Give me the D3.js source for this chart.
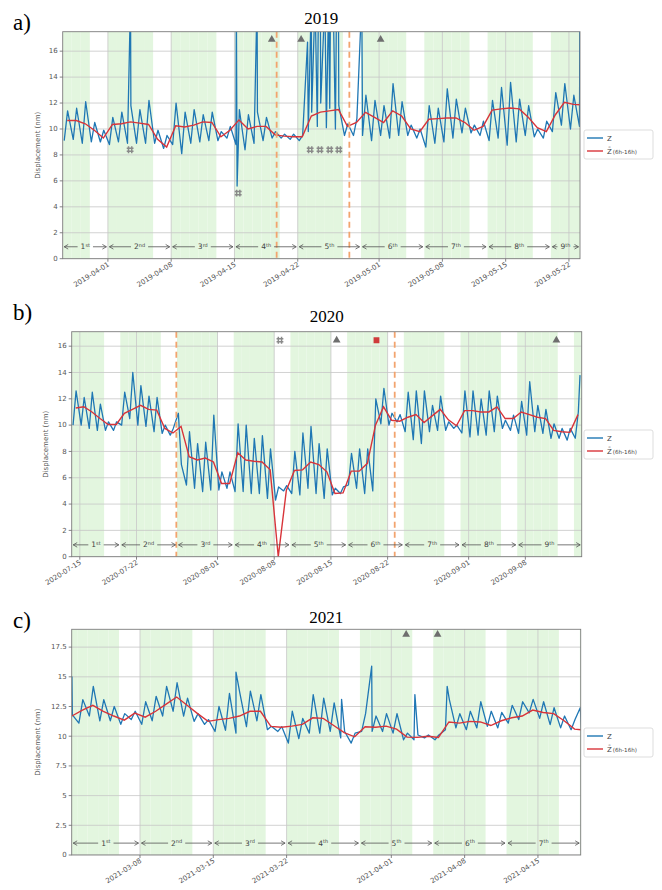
<!DOCTYPE html>
<html>
<head>
<meta charset="utf-8">
<script src="https://cdn.jsdelivr.net/npm/d3@7"></script>
<style>
  body { margin: 0; background: #fff; }
  svg { display: block; }
</style>
</head>
<body>
<svg id="fig" width="662" height="890"></svg>
<script>
// ---- panel a (2019) ----
// Z read at ~04h (night) and ~13h (day) for each day from 2019-03-27
const aStart = "2019-03-27";
const aZ04h = [9.1, 9.2, 8.9, 9.0, 9.0, 8.8, 9.0, 8.9, 8.9, 8.9, 8.9, 8.5, 8.8, 8.1, 8.9, 9.0, 9.1, 9.1, 9.3, 8.8,
  8.4, 8.9, 9.1, 9.3, 9.3, 9.2, 9.1, 9.8, 10.2, 10.1, 10.0, 9.5, 9.5, 9.5, 9.1, 9.5, 9.3, 9.5, 9.5, 9.3,
  8.6, 8.9, 9.0, 9.3, 9.7, 9.7, 9.5, 9.1, 9.3, 8.75, 9.0, 9.5, 9.4, 9.3, 9.8, 10.3, 10.0, 10.2];
const aZ13h = [11.4, 11.6, 12.1, 10.5, 9.9, 10.9, 11.3, 11.8, 11.5, 12.2, 9.9, 9.5, 12.0, 11.3, 11.5, 11.1, 11.3, 9.8, 10.2, 11.5,
  11.1, 11.3, 10.9, 9.8, 9.6, 9.6, 9.5, 11.3, 12.0, 11.6, 11.8, 10.4, 10.8, 12.6, 12.2, 11.8, 13.5, 12.1, 10.3, 10.0,
  11.8, 11.6, 13.1, 12.3, 11.6, 10.3, 10.6, 12.2, 13.2, 13.6, 12.3, 11.8, 10.0, 10.6, 12.8, 13.5, 12.6, 12.0];
// daily mean 6h-16h, plotted at noon
const aMean = [10.65, 10.65, 10.4, 9.9, 9.3, 10.35, 10.4, 10.55, 10.45, 10.35, 9.2, 8.6, 10.25, 10.15, 10.3, 10.55, 10.5, 9.4, 9.9, 10.7,
  10.0, 10.2, 10.2, 9.55, 9.45, 9.4, 9.4, 11.0, 11.3, 11.4, 11.5, 10.2, 10.5, 11.28, 10.9, 10.5, 11.4, 11.0, 10.0, 9.8,
  10.75, 10.8, 10.85, 10.85, 10.5, 9.9, 10.2, 11.45, 11.55, 11.62, 11.55, 10.9, 10.1, 9.8, 11.1, 12.05, 11.9, 11.85];
const aSpikes = [["2019-04-03T12:00", 20], ["2019-04-15T05:00", 20], ["2019-04-15T07:00", 5.6], ["2019-04-17T12:00", 20],
  ["2019-04-23T02:00", 16.7], ["2019-04-23T12:00", 20], ["2019-04-23T22:00", 20], ["2019-04-24T07:00", 20],
  ["2019-04-24T12:00", 20], ["2019-04-25T00:00", 20], ["2019-04-25T10:00", 20], ["2019-04-25T15:00", 20],
  ["2019-04-25T22:00", 20], ["2019-04-26T07:00", 20], ["2019-04-26T12:00", 20], ["2019-04-29T02:00", 20],
  ["2019-05-23T05:00", 20]];
const aTicks = ["2019-04-01", "2019-04-08", "2019-04-15", "2019-04-22", "2019-05-01", "2019-05-08", "2019-05-15", "2019-05-22"];
const aWeeks = ["2019-03-27", "2019-04-01", "2019-04-08", "2019-04-15", "2019-04-22", "2019-04-29", "2019-05-06", "2019-05-13", "2019-05-20", "2019-05-23T05:20"];
const aDashed = ["2019-04-19T16:00", "2019-04-27T17:00"];
const aTriangles = [["2019-04-19T03:00", 16.9], ["2019-04-22T09:00", 16.9], ["2019-05-01T04:00", 16.9]];
const aHashes = [["2019-04-03T11:00", 8.4], ["2019-04-15T10:00", 5.05], ["2019-04-23T09:00", 8.4],
  ["2019-04-24T11:00", 8.4], ["2019-04-25T13:00", 8.4], ["2019-04-26T13:00", 8.4]];

// ---- panel b (2020) ----
const bStart = "2020-07-14";
const bZ04h = [10.0, 10.0, 9.75, 9.6, 9.6, 9.6, 10.0, 10.5, 10.0, 9.9, 9.5, 9.37, 9.24, 10.9, 5.45, 5.2, 4.95, 5.07, 5.07, 5.2,
  4.95, 4.95, 4.8, 4.8, 4.43, 4.3, 5.0, 4.8, 4.7, 5.2, 4.8, 4.43, 4.7, 4.8, 5.45, 5.2, 4.8, 5.0, 10.1, 10.0,
  10.25, 9.5, 8.9, 8.6, 9.5, 9.6, 9.6, 9.75, 9.4, 9.1, 9.24, 9.24, 9.5, 9.75, 9.6, 9.37, 9.24, 9.5, 9.37, 9.0,
  9.0, 8.86, 9.0];
const bZ13h = [12.6, 12.1, 12.5, 11.6, 10.25, 10.25, 12.5, 14.0, 13.0, 12.2, 12.1, 10.0, 9.75, 7.0, 9.5, 8.6, 8.7, 10.76, 6.45, 6.45,
  10.1, 10.0, 9.0, 9.2, 8.2, 5.3, 5.4, 8.0, 9.4, 9.9, 8.6, 8.2, 5.2, 5.3, 7.85, 8.2, 8.2, 12.0, 12.8, 10.9,
  10.8, 12.5, 12.6, 12.6, 11.5, 12.2, 10.25, 10.0, 12.6, 12.6, 12.0, 12.6, 12.2, 10.37, 10.76, 11.8, 13.3, 11.5, 11.2, 10.1,
  9.75, 9.75, 11.0];
const bMean = [11.3, 11.4, 11.0, 10.5, 10.05, 10.05, 10.9, 11.2, 11.5, 11.2, 11.14, 9.75, 9.4, 9.9, 7.6, 7.35, 7.5, 7.2, 5.56, 5.56,
  7.9, 7.35, 7.25, 7.2, 6.6, 0.0, 5.05, 6.55, 6.6, 7.2, 7.0, 6.45, 4.8, 4.85, 6.5, 6.5, 7.1, 10.0, 11.39, 10.37,
  10.3, 10.6, 10.8, 10.2, 10.7, 11.2, 10.4, 9.95, 11.1, 11.1, 11.0, 11.0, 11.39, 10.5, 10.5, 11.0, 10.8, 10.6, 10.5, 9.6,
  9.5, 9.45, 10.8];
const bSpikes = [["2020-09-14T18:00", 13.8]];
const bTicks = ["2020-07-15", "2020-07-22", "2020-08-01", "2020-08-08", "2020-08-15", "2020-08-22", "2020-09-01", "2020-09-08"];
const bWeeks = ["2020-07-14", "2020-07-20", "2020-07-27", "2020-08-03", "2020-08-10", "2020-08-17", "2020-08-24", "2020-08-31", "2020-09-07", "2020-09-14T23:00"];
const bDashed = ["2020-07-26T22:00", "2020-08-22T21:00"];
const bTriangles = [["2020-08-15T17:00", 16.45], ["2020-09-11T20:00", 16.45]];
const bHashes = [["2020-08-08T17:00", 16.45]];
const bSquares = [["2020-08-20T15:00", 16.45]];

// ---- panel c (2021) ----
const cStart = "2021-03-01";
const cZ04h = [10.5, 11.1, 11.7, 11.3, 11.3, 11.0, 11.4, 11.0, 11.3, 11.7, 12.1, 11.7, 11.25, 11.0, 10.4, 10.5, 10.26, 10.8, 11.3, 10.55,
  10.4, 9.42, 9.8, 10.26, 10.26, 10.4, 9.86, 9.42, 10.4, 10.4, 10.4, 10.26, 9.7, 9.7, 9.86, 9.7, 10.55, 10.7, 10.55, 10.7,
  10.83, 10.7, 11.1, 11.4, 11.96, 11.5, 10.97, 10.7, 10.55, 10.55];
const cZ13h = [11.8, 13.08, 14.2, 13.08, 12.5, 11.9, 12.1, 12.9, 13.36, 14.2, 14.5, 13.2, 11.9, 11.4, 12.5, 13.6, 13.6, 13.8, 13.5, 10.83,
  10.8, 12.1, 11.5, 13.5, 13.2, 12.8, 10.4, 10.26, 11.9, 11.7, 11.9, 11.9, 10.26, 10.1, 10.1, 10.1, 13.08, 11.9, 12.1, 12.9,
  12.1, 12.0, 12.6, 12.9, 13.1, 12.9, 12.4, 11.7, 11.4, 12.0];
const cMean = [11.7, 12.2, 12.6, 12.1, 11.7, 11.35, 11.95, 11.6, 12.1, 12.7, 13.3, 12.6, 11.9, 11.25, 11.4, 11.5, 11.7, 12.1, 12.1, 10.83,
  10.75, 10.85, 11.0, 11.55, 11.5, 10.9, 10.3, 9.95, 10.8, 10.75, 10.85, 10.6, 9.92, 9.9, 10.0, 9.9, 11.2, 11.1, 11.25, 11.2,
  10.9, 11.3, 11.55, 11.7, 12.2, 12.0, 11.9, 11.3, 10.6, 10.5];
const cSpikes = [["2021-03-01T12:00", 15.0], ["2021-03-17T04:00", 15.4], ["2021-03-27T06:00", 13.1], ["2021-03-30T03:00", 15.9],
  ["2021-04-03T06:00", 13.5], ["2021-04-06T08:00", 14.2], ["2021-04-19T01:00", 12.4]];
const cTicks = ["2021-03-08", "2021-03-15", "2021-03-22", "2021-04-01", "2021-04-08", "2021-04-15"];
const cWeeks = ["2021-03-01T11:30", "2021-03-08", "2021-03-15", "2021-03-22", "2021-03-29", "2021-04-05", "2021-04-12", "2021-04-19T02:00"];
const cTriangles = [["2021-04-02T10:00", 18.57], ["2021-04-05T10:00", 18.57]];

const weekLabels = ["1st", "2nd", "3rd", "4th", "5th", "6th", "7th", "8th", "9th"];
const yTicksAB = [0, 2, 4, 6, 8, 10, 12, 14, 16];
const yTicksC = [0, 2.5, 5, 7.5, 10, 12.5, 15, 17.5];

const parseHour = d3.timeParse("%Y-%m-%dT%H:%M");
const parseDay = d3.timeParse("%Y-%m-%d");
const T = s => s.length > 10 ? parseHour(s) : parseDay(s);

function zSeries(start, night, day, spikes) {
  const t0 = parseDay(start);
  const pts = [];
  night.forEach((v, i) => {
    const d = d3.timeDay.offset(t0, i);
    pts.push({ t: d3.timeHour.offset(d, 4), v: v });
    pts.push({ t: d3.timeHour.offset(d, 13), v: day[i] });
  });
  spikes.forEach(([s, v]) => pts.push({ t: T(s), v: v }));
  return pts.sort((p, q) => p.t - q.t);
}
function meanSeries(start, mean) {
  const t0 = parseDay(start);
  return mean.map((v, i) => ({ t: d3.timeHour.offset(d3.timeDay.offset(t0, i), 12), v: v }));
}

const panels = [
  { id: "a", tag: "a)", title: "2019", left: 62.7, right: 580, top: 31.7, bottom: 258.7, yMax: 17.5, yTicks: yTicksAB,
    ylabX: 40, tagY: 30, titleY: 24, legendY: 130,
    domain: [aWeeks[0], aWeeks[aWeeks.length - 1]], ticks: aTicks, weeks: aWeeks, arrowV: 0.92,
    z: zSeries(aStart, aZ04h, aZ13h, aSpikes), mean: meanSeries(aStart, aMean),
    dashed: aDashed, tri: aTriangles, hash: aHashes, sq: [] },
  { id: "b", tag: "b)", title: "2020", left: 71.7, right: 581.7, top: 331.7, bottom: 556.7, yMax: 17.1, yTicks: yTicksAB,
    ylabX: 48, tagY: 320, titleY: 322, legendY: 430,
    domain: [bWeeks[0], bWeeks[bWeeks.length - 1]], ticks: bTicks, weeks: bWeeks, arrowV: 0.9,
    z: zSeries(bStart, bZ04h, bZ13h, bSpikes), mean: meanSeries(bStart, bMean),
    dashed: bDashed, tri: bTriangles, hash: bHashes, sq: bSquares },
  { id: "c", tag: "c)", title: "2021", left: 71.7, right: 580.7, top: 629.3, bottom: 855, yMax: 19, yTicks: yTicksC,
    ylabX: 40, tagY: 628, titleY: 623, legendY: 728,
    domain: [cWeeks[0], cWeeks[cWeeks.length - 1]], ticks: cTicks, weeks: cWeeks, arrowV: 1.0,
    z: zSeries(cStart, cZ04h, cZ13h, cSpikes), mean: meanSeries(cStart, cMean),
    dashed: [], tri: cTriangles, hash: [], sq: [] }
];

const svg = d3.select("#fig");
const tickFont = "DejaVu Sans, sans-serif";

function drawPanel(p) {
  const x = d3.scaleTime().domain(p.domain.map(T)).range([p.left, p.right]);
  const y = d3.scaleLinear().domain([0, p.yMax]).range([p.bottom, p.top]);
  const g = svg.append("g");

  g.append("clipPath").attr("id", "clip-" + p.id)
    .append("rect").attr("x", p.left).attr("y", p.top)
    .attr("width", p.right - p.left).attr("height", p.bottom - p.top);
  const plot = g.append("g").attr("clip-path", `url(#clip-${p.id})`);

  // weekday shading
  const days = d3.timeDay.range(d3.timeDay.floor(x.domain()[0]), x.domain()[1])
    .filter(d => d.getDay() >= 1 && d.getDay() <= 5);
  plot.selectAll("rect.wd").data(days).join("rect").attr("class", "wd")
    .attr("x", d => x(d)).attr("y", p.top)
    .attr("width", d => x(d3.timeDay.offset(d, 1)) - x(d)).attr("height", p.bottom - p.top)
    .attr("fill", "#e3f6df");

  // grid
  plot.selectAll("line.gy").data(p.yTicks).join("line").attr("class", "gy")
    .attr("x1", p.left).attr("x2", p.right).attr("y1", d => y(d)).attr("y2", d => y(d))
    .attr("stroke", "#c6c6c6").attr("stroke-width", 0.8);
  plot.selectAll("line.gx").data(p.ticks.map(T)).join("line").attr("class", "gx")
    .attr("x1", d => x(d)).attr("x2", d => x(d)).attr("y1", p.top).attr("y2", p.bottom)
    .attr("stroke", "#c6c6c6").attr("stroke-width", 0.8);

  const line = d3.line().x(d => x(d.t)).y(d => y(d.v));
  plot.append("path").datum(p.z).attr("d", line)
    .attr("fill", "none").attr("stroke", "#1f77b4").attr("stroke-width", 1.3).attr("stroke-linejoin", "round");
  plot.append("path").datum(p.mean).attr("d", line)
    .attr("fill", "none").attr("stroke", "#d8343a").attr("stroke-width", 1.4);

  // dashed separators
  plot.selectAll("line.ds").data(p.dashed.map(T)).join("line").attr("class", "ds")
    .attr("x1", d => x(d)).attr("x2", d => x(d)).attr("y1", p.top).attr("y2", p.bottom)
    .attr("stroke", "#f2a46e").attr("stroke-width", 1.8).attr("stroke-dasharray", "6,4");

  // markers
  plot.selectAll("path.tri").data(p.tri).join("path").attr("class", "tri")
    .attr("transform", d => `translate(${x(T(d[0]))},${y(d[1])})`)
    .attr("d", d3.symbol(d3.symbolTriangle, 26)).attr("fill", "#6e6e6e");
  plot.selectAll("path.sq").data(p.sq).join("path").attr("class", "sq")
    .attr("transform", d => `translate(${x(T(d[0]))},${y(d[1])})`)
    .attr("d", d3.symbol(d3.symbolSquare, 34)).attr("fill", "#cf3b3b");
  plot.selectAll("path.hs").data(p.hash).join("path").attr("class", "hs")
    .attr("transform", d => `translate(${x(T(d[0]))},${y(d[1])})`)
    .attr("d", "M-1.6,-3.4V3.4M1.6,-3.4V3.4M-3.4,-1.6H3.4M-3.4,1.6H3.4")
    .attr("stroke", "#8a8a8a").attr("stroke-width", 1.5).attr("fill", "none");

  // week arrows
  const ay = y(p.arrowV);
  const wk = p.weeks.map(T);
  for (let i = 0; i < wk.length - 1; i++) {
    const x0 = x(wk[i]) + 1.5, x1 = x(wk[i + 1]) - 1.5, xm = (x0 + x1) / 2;
    const m = weekLabels[i].match(/(\d+)(\D+)/);
    const txt = g.append("text").attr("x", xm).attr("y", ay + 2.6).attr("text-anchor", "middle")
      .attr("font-family", tickFont).attr("font-size", 7.5).attr("fill", "#444");
    txt.append("tspan").text(m[1]);
    txt.append("tspan").attr("font-size", 5).attr("dy", -2.8).text(m[2]);
    const gap = txt.node().getComputedTextLength() / 2 + 3;
    g.append("path")
      .attr("d", `M${x0 + 4},${ay - 2.3}L${x0},${ay}L${x0 + 4},${ay + 2.3}M${x0},${ay}H${xm - gap}` +
        `M${xm + gap},${ay}H${x1}M${x1 - 4},${ay - 2.3}L${x1},${ay}L${x1 - 4},${ay + 2.3}`)
      .attr("fill", "none").attr("stroke", "#555").attr("stroke-width", 0.8);
  }

  // frame
  g.append("rect").attr("x", p.left).attr("y", p.top)
    .attr("width", p.right - p.left).attr("height", p.bottom - p.top)
    .attr("fill", "none").attr("stroke", "#7c7c7c").attr("stroke-width", 0.9);

  // y ticks
  p.yTicks.forEach(v => {
    g.append("line").attr("x1", p.left - 3).attr("x2", p.left).attr("y1", y(v)).attr("y2", y(v))
      .attr("stroke", "#666").attr("stroke-width", 0.8);
    g.append("text").attr("x", p.left - 5).attr("y", y(v)).attr("dy", "0.33em").attr("text-anchor", "end")
      .attr("font-family", tickFont).attr("font-size", 7).attr("fill", "#555").text(String(v));
  });
  g.append("text").attr("transform", `translate(${p.ylabX},${(p.top + p.bottom) / 2}) rotate(-90)`)
    .attr("text-anchor", "middle").attr("font-family", tickFont).attr("font-size", 7).attr("fill", "#555")
    .text("Displacement (nm)");

  // x ticks
  const fmt = d3.timeFormat("%Y-%m-%d");
  p.ticks.map(T).forEach(d => {
    g.append("line").attr("x1", x(d)).attr("x2", x(d)).attr("y1", p.bottom).attr("y2", p.bottom + 3)
      .attr("stroke", "#666").attr("stroke-width", 0.8);
    g.append("text").attr("transform", `translate(${x(d) + 2},${p.bottom + 7}) rotate(-32)`)
      .attr("text-anchor", "end").attr("font-family", tickFont).attr("font-size", 7).attr("fill", "#555")
      .text(fmt(d));
  });

  // legend
  const lg = g.append("g").attr("transform", `translate(584,${p.legendY})`);
  lg.append("rect").attr("width", 69).attr("height", 29).attr("rx", 2)
    .attr("fill", "#fff").attr("stroke", "#d4d4d4").attr("stroke-width", 0.8);
  lg.append("line").attr("x1", 3).attr("x2", 19).attr("y1", 8).attr("y2", 8)
    .attr("stroke", "#1f77b4").attr("stroke-width", 1.4);
  lg.append("line").attr("x1", 3).attr("x2", 19).attr("y1", 21).attr("y2", 21)
    .attr("stroke", "#d8343a").attr("stroke-width", 1.4);
  lg.append("text").attr("x", 23).attr("y", 10.5).attr("font-family", tickFont).attr("font-size", 7)
    .attr("fill", "#444").text("Z");
  const l2 = lg.append("text").attr("x", 23).attr("y", 23.5).attr("font-family", tickFont).attr("font-size", 7)
    .attr("fill", "#444");
  l2.append("tspan").text("Z\u0304");
  l2.append("tspan").attr("font-size", 5.6).attr("dx", 1).text("(6h-16h)");

  // panel tag and title
  g.append("text").attr("x", 13).attr("y", p.tagY).attr("font-family", "Liberation Serif, serif")
    .attr("font-size", 23).attr("fill", "#000").text(p.tag);
  g.append("text").attr("x", (p.left + p.right) / 2).attr("y", p.titleY).attr("text-anchor", "middle")
    .attr("font-family", "Liberation Serif, serif").attr("font-size", 17).attr("fill", "#000").text(p.title);
}

panels.forEach(drawPanel);
</script>
</body>
</html>
